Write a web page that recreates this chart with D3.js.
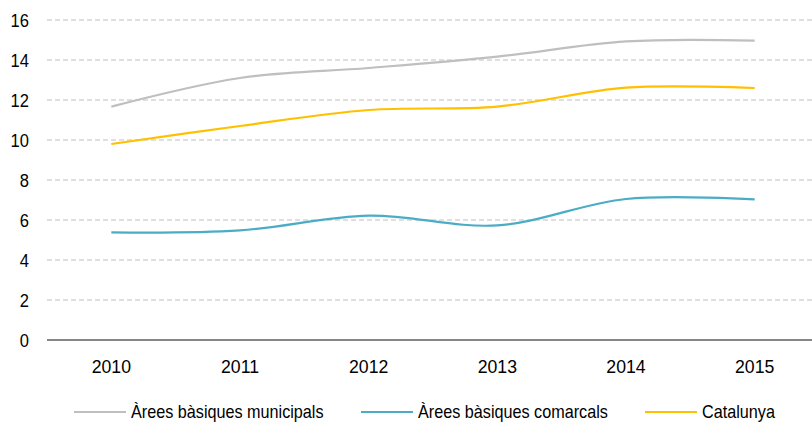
<!DOCTYPE html>
<html>
<head>
<meta charset="utf-8">
<script src="https://cdn.jsdelivr.net/npm/d3@7"></script>
<style>
  body { margin: 0; background: #fff; }
  svg text { font-family: "Liberation Sans Narrow", "Arial Narrow", "Liberation Sans", Arial, sans-serif; fill: #000; }
</style>
</head>
<body>
<script>
const years = ["2010", "2011", "2012", "2013", "2014", "2015"];
const municipals = [11.67, 13.1, 13.6, 14.17, 14.93, 14.97];
const comarcals = [5.38, 5.48, 6.22, 5.73, 7.05, 7.03];
const catalunya = [9.8, 10.7, 11.5, 11.67, 12.62, 12.6];
const yTicks = [0, 2, 4, 6, 8, 10, 12, 14, 16];

const series = [
  { name: "Àrees bàsiques municipals", values: municipals, color: "#bfbfbf" },
  { name: "Àrees bàsiques comarcals", values: comarcals, color: "#4bacc6" },
  { name: "Catalunya", values: catalunya, color: "#ffc000" }
];

const width = 812, height = 423;
const squeeze = 0.87; // no narrow font installed, so squash text horizontally

const svg = d3.select("body").append("svg")
  .attr("width", width)
  .attr("height", height);

const x = d3.scaleBand()
  .domain(years)
  .range([47, 819])
  .padding(0);

const y = d3.scaleLinear()
  .domain([0, 16])
  .range([340, 20]);

// gridlines
svg.append("g")
  .selectAll("line")
  .data(yTicks.filter(d => d > 0))
  .enter().append("line")
  .attr("x1", 47)
  .attr("x2", width)
  .attr("y1", d => y(d))
  .attr("y2", d => y(d))
  .attr("stroke", "#bfbfbf")
  .attr("stroke-width", 1)
  .attr("stroke-dasharray", "5,3");

// y axis labels
svg.append("g")
  .selectAll("text")
  .data(yTicks)
  .enter().append("text")
  .attr("transform", d => `translate(29,${y(d)}) scale(${squeeze},1)`)
  .attr("dy", "0.35em")
  .attr("text-anchor", "end")
  .attr("font-size", 19)
  .text(d => d);

// x axis line
svg.append("line")
  .attr("x1", 47)
  .attr("x2", width)
  .attr("y1", y(0))
  .attr("y2", y(0))
  .attr("stroke", "#868686")
  .attr("stroke-width", 2);

// x labels
svg.append("g")
  .selectAll("text")
  .data(years)
  .enter().append("text")
  .attr("transform", d => `translate(${x(d) + x.bandwidth() / 2},366) scale(0.93,1)`)
  .attr("dy", "0.35em")
  .attr("text-anchor", "middle")
  .attr("font-size", 19)
  .text(d => d);

const line = d3.line()
  .x((d, i) => x(years[i]) + x.bandwidth() / 2)
  .y(d => y(d))
  .curve(d3.curveCardinal.tension(0));

svg.append("g")
  .selectAll("path")
  .data(series)
  .enter().append("path")
  .attr("d", d => line(d.values))
  .attr("fill", "none")
  .attr("stroke", d => d.color)
  .attr("stroke-width", 2.2);

// legend
const legendX = [74, 361, 645];
const legend = svg.append("g")
  .selectAll("g")
  .data(series)
  .enter().append("g")
  .attr("transform", (d, i) => `translate(${legendX[i]},412)`);

legend.append("line")
  .attr("x1", 0)
  .attr("x2", 52)
  .attr("stroke", d => d.color)
  .attr("stroke-width", 2.2);

legend.append("text")
  .attr("transform", `translate(57,0) scale(0.9,1)`)
  .attr("dy", "0.35em")
  .attr("font-size", 18)
  .text(d => d.name);
</script>
</body>
</html>
